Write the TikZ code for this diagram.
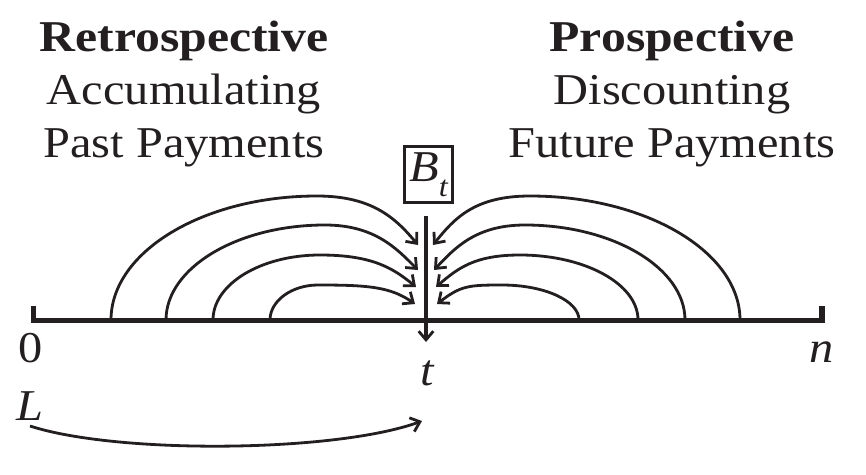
\documentclass[tikz,border=0pt]{standalone}
\usepackage{fontspec}
\setmainfont{Liberation Serif}[FakeStretch=1.1,BoldFeatures={FakeStretch=1.13}]
\usetikzlibrary{arrows.meta}
\definecolor{ink}{HTML}{231F20}
\begin{document}
\begin{tikzpicture}[x=0.75pt,y=-0.75pt,color=ink,
  lbl/.style={inner sep=0pt,anchor=base,text=ink,font=\fontsize{33}{36}\selectfont},
  ttl/.style={lbl,font=\fontsize{33}{36}\selectfont\bfseries},
  flow/.style={draw=ink,line width=2.1pt,-{Straight Barb[length=6.5pt,width=11pt,line width=2.1pt]}},
  axis/.style={draw=ink,line width=4.3pt,miter limit=10},
  valbox/.style={draw=ink,line width=2.2pt,minimum width=36pt,minimum height=42pt,inner sep=0pt}]
\useasboundingbox (0,0) rectangle (866,474);
% titles
\node[ttl] (rt) at (184,52) {Retrospective};
\node[lbl] (ra) at (184,105) {Accumulating};
\node[lbl] (rp) at (184,157) {Past Payments};
\node[ttl] (pt) at (672,52) {Prospective};
\node[lbl] (pd) at (672,105) {Discounting};
\node[lbl] (pf) at (672,157) {Future Payments};
% axis
\coordinate (a0) at (33.5,306);
\coordinate (a1) at (33.5,320.5);
\coordinate (a2) at (822,320.5);
\coordinate (a3) at (822,306);
\draw[axis] (a0) -- (a1) -- (a2) -- (a3);
% labels
\node[lbl] (zero) at (31,362) {0};
\node[lbl] (en) at (822,362) {\itshape n};
\node[lbl] (tee) at (427,385) {\itshape t};
\node[lbl] (ell) at (30,420) {\itshape L};
% box
\node[valbox] (bt) at (428.5,174.5)
  {\fontsize{33}{36}\selectfont\itshape B\raisebox{-11pt}{\fontsize{22}{22}\selectfont t}};
% vertical line
\coordinate (v0) at (426,216);
\coordinate (v1) at (426,342);
\draw[flow,line width=2.3pt] (v0) -- (v1);
% left arcs
\coordinate (ls1) at (111,320); \coordinate (lp1) at (317,196); \coordinate (le1) at (418,245);
\coordinate (ls2) at (166,320); \coordinate (lp2) at (325,225); \coordinate (le2) at (418,270);
\coordinate (ls3) at (213,320); \coordinate (lp3) at (320,255); \coordinate (le3) at (416,287);
\coordinate (ls4) at (270,320); \coordinate (lp4) at (318,285); \coordinate (le4) at (415,304);
\draw[flow] (ls1) .. controls (111,252) and (203,196) .. (lp1) .. controls (372,196) and (395.5,218) .. (le1);
\draw[flow] (ls2) .. controls (166,268) and (237,225) .. (lp2) .. controls (375,225) and (397,249) .. (le2);
\draw[flow] (ls3) .. controls (213,284) and (261,255) .. (lp3) .. controls (372,255) and (393,268) .. (le3);
\draw[flow] (ls4) .. controls (270,301) and (291.5,285) .. (lp4) .. controls (368,285) and (390.4,286.8) .. (le4);
% right arcs
\coordinate (rs1) at (740,320); \coordinate (rp1) at (530,196); \coordinate (re1) at (433,245);
\coordinate (rs2) at (685,320); \coordinate (rp2) at (525,225); \coordinate (re2) at (434,270);
\coordinate (rs3) at (638,320); \coordinate (rp3) at (520,255); \coordinate (re3) at (436,287);
\coordinate (rs4) at (579,320); \coordinate (rp4) at (502,285); \coordinate (re4) at (437,304);
\draw[flow] (rs1) .. controls (740,252) and (646,196) .. (rp1) .. controls (475,196) and (454.5,218) .. (re1);
\draw[flow] (rs2) .. controls (685,268) and (613,225) .. (rp2) .. controls (475,225) and (454,249) .. (re2);
\draw[flow] (rs3) .. controls (638,284) and (585,255) .. (rp3) .. controls (475,255) and (458,268) .. (re3);
\draw[flow] (rs4) .. controls (579,301) and (545,285) .. (rp4) .. controls (468,285) and (460.6,285.8) .. (re4);
% bottom arc
\coordinate (b0) at (30,426);
\coordinate (b1) at (422,421);
\draw[flow] (b0) to[out=-18,in=200,looseness=0.6] (b1);
\end{tikzpicture}
\end{document}
